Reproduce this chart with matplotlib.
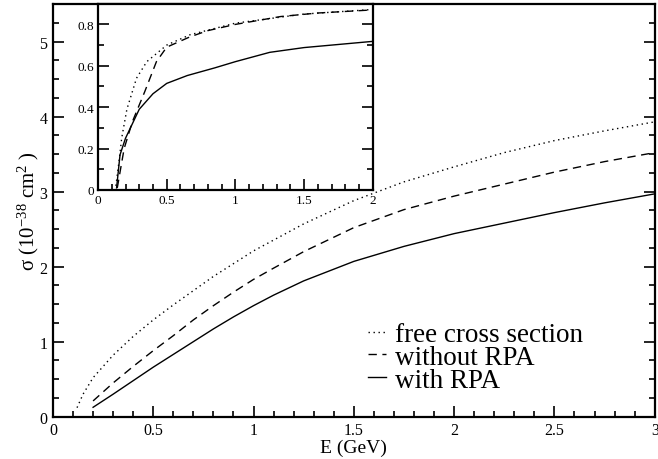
import matplotlib
matplotlib.use("Agg")
import matplotlib.pyplot as plt
from matplotlib.ticker import MultipleLocator, FuncFormatter

plt.rcParams['font.family'] = ['Liberation Serif', 'DejaVu Serif']
plt.rcParams['mathtext.fontset'] = 'custom'
plt.rcParams['mathtext.rm'] = 'Liberation Serif'
plt.rcParams['mathtext.it'] = 'Liberation Serif:italic'

# Total cross section vs. neutrino energy (main panel)
e_free = [0.12, 0.15, 0.2, 0.3, 0.4, 0.5, 0.6, 0.8, 1.0, 1.25, 1.5, 1.75, 2.0, 2.25, 2.5, 2.75, 3.0]
s_free = [0.12, 0.30, 0.52, 0.82, 1.07, 1.29, 1.49, 1.87, 2.21, 2.57, 2.88, 3.13, 3.33, 3.52, 3.68, 3.81, 3.93]

e_norpa = [0.2, 0.3, 0.4, 0.5, 0.6, 0.7, 0.8, 0.9, 1.0, 1.1, 1.25, 1.5, 1.75, 2.0, 2.25, 2.5, 2.75, 3.0]
s_norpa = [0.21, 0.45, 0.67, 0.88, 1.08, 1.29, 1.48, 1.66, 1.83, 1.98, 2.20, 2.52, 2.76, 2.94, 3.10, 3.26, 3.40, 3.52]

e_rpa = [0.2, 0.3, 0.4, 0.5, 0.6, 0.7, 0.8, 0.9, 1.0, 1.1, 1.25, 1.5, 1.75, 2.0, 2.25, 2.5, 2.75, 3.0]
s_rpa = [0.125, 0.30, 0.48, 0.66, 0.83, 1.00, 1.17, 1.33, 1.48, 1.62, 1.81, 2.07, 2.27, 2.44, 2.58, 2.72, 2.85, 2.97]

# Inset curves
ie_free = [0.13, 0.155, 0.172, 0.21, 0.28, 0.355, 0.5, 0.67, 1.0, 1.5, 2.0]
is_free = [0.02, 0.15, 0.25, 0.39, 0.54, 0.62, 0.70, 0.75, 0.806, 0.85, 0.872]

ie_norpa = [0.14, 0.19, 0.25, 0.34, 0.425, 0.5, 0.67, 0.8, 1.0, 1.33, 1.6, 2.0]
is_norpa = [0.01, 0.20, 0.33, 0.475, 0.62, 0.69, 0.74, 0.77, 0.80, 0.838, 0.855, 0.87]

ie_rpa = [0.135, 0.16, 0.2, 0.3, 0.4, 0.5, 0.65, 0.85, 1.0, 1.25, 1.5, 1.75, 2.0]
is_rpa = [0.01, 0.17, 0.25, 0.39, 0.465, 0.515, 0.553, 0.59, 0.62, 0.665, 0.688, 0.703, 0.718]

labels = ["free cross section", "without RPA", "with RPA"]

DOT = (0, (1, 2.6))
DASH = (0, (6, 4))
LW = 1.0

fig = plt.figure(figsize=(6.58, 4.6), dpi=100)
ax = fig.add_axes([0.0805, 0.092, 0.9145, 0.897])

ax.plot(e_free, s_free, color='black', lw=LW, linestyle=DOT, label=labels[0])
ax.plot(e_norpa, s_norpa, color='black', lw=LW, linestyle=DASH, label=labels[1])
ax.plot(e_rpa, s_rpa, color='black', lw=LW, linestyle='-', label=labels[2])

ax.set_xlim(0, 3)
ax.set_ylim(0, 5.5)
ax.xaxis.set_major_locator(MultipleLocator(0.5))
ax.xaxis.set_minor_locator(MultipleLocator(0.1))
ax.yaxis.set_major_locator(MultipleLocator(1))
ax.yaxis.set_minor_locator(MultipleLocator(0.25))
fmt = FuncFormatter(lambda v, p: f"{v:g}")
ax.xaxis.set_major_formatter(fmt)
ax.yaxis.set_major_formatter(fmt)
ax.tick_params(which='both', direction='in', top=False, right=True, width=1.2, labelsize=11.5)
ax.tick_params(which='major', length=8, pad=4)
ax.tick_params(which='minor', length=4.5)
for s in ax.spines.values():
    s.set_linewidth(1.6)

ax.set_xlabel("E (GeV)", fontsize=14, labelpad=0)
ax.set_ylabel(r"σ (10$^{\mathrm{-38}}$ cm$^{\mathrm{2}}$ )", fontsize=15, labelpad=-1)

leg = ax.legend(loc='upper left', bbox_to_anchor=(368 / 658, 1 - 323 / 460),
                bbox_transform=fig.transFigure, frameon=False, fontsize=19.5,
                handlelength=0.65, handletextpad=0.35, labelspacing=-0.08,
                borderpad=0, borderaxespad=0)

# Inset
ax2 = fig.add_axes([0.149, 0.5848, 0.4175, 0.405])
ax2.plot(ie_free, is_free, color='black', lw=LW, linestyle=DOT)
ax2.plot(ie_norpa, is_norpa, color='black', lw=LW, linestyle=DASH)
ax2.plot(ie_rpa, is_rpa, color='black', lw=LW, linestyle='-')
ax2.set_xlim(0, 2)
ax2.set_ylim(0, 0.9)
ax2.xaxis.set_major_locator(MultipleLocator(0.5))
ax2.xaxis.set_minor_locator(MultipleLocator(0.1))
ax2.yaxis.set_major_locator(MultipleLocator(0.2))
ax2.yaxis.set_minor_locator(MultipleLocator(0.1))
ax2.xaxis.set_major_formatter(fmt)
ax2.yaxis.set_major_formatter(fmt)
ax2.tick_params(which='both', direction='in', top=False, right=True, width=1.2, labelsize=9.5)
ax2.tick_params(which='major', length=8, pad=3)
ax2.tick_params(which='minor', length=4)
for s in ax2.spines.values():
    s.set_linewidth(1.6)

fig.savefig("out.png", dpi=100)
